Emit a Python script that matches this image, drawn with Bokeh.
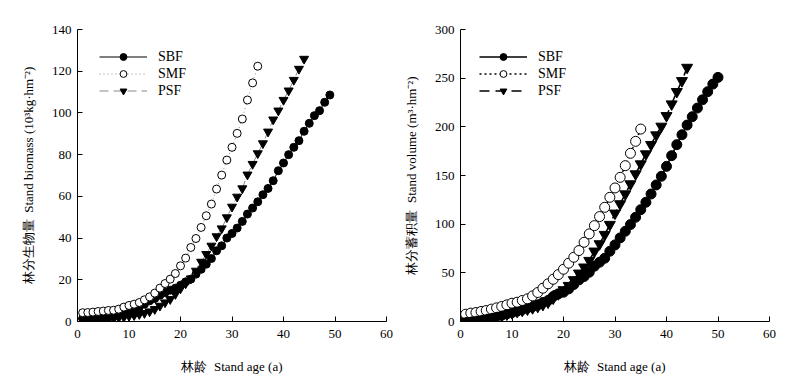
from bokeh.plotting import figure
from bokeh.layouts import row
from bokeh.models import Range1d, Legend, LegendItem
from bokeh.embed import file_html
from bokeh.resources import INLINE

# ---------------- data ----------------
age_sbf_bio = list(range(1, 50))
bio_sbf = [1.4, 1.6, 1.8, 1.9, 2.2, 2.6, 2.9, 3.2, 3.8, 4.8,
           5.9, 7.0, 8.3, 9.9, 11.0, 12.6, 13.9, 15.0, 16.0, 17.4,
           19.0, 20.3, 22.7, 25.0, 27.5, 30.2, 33.9, 36.3, 40.0, 42.2,
           44.8, 48.0, 51.5, 54.4, 57.4, 60.8, 63.8, 67.5, 72.3, 76.0,
           80.0, 83.5, 86.7, 91.2, 95.0, 98.7, 101.1, 105.1, 108.6]
age_smf_bio = list(range(1, 36))
bio_smf = [4.2, 4.3, 4.5, 4.8, 5.0, 5.3, 5.4, 5.9, 6.9, 7.7,
           8.3, 9.1, 10.4, 11.8, 13.6, 16.0, 18.2, 20.3, 23.0, 26.7,
           30.4, 35.5, 39.8, 45.1, 50.7, 56.3, 63.5, 70.2, 77.4, 83.5,
           90.2, 97.1, 106.2, 114.4, 122.4]
age_psf_bio = list(range(1, 45))
bio_psf = [0.3, 0.5, 0.6, 0.8, 1.0, 1.3, 1.4, 1.8, 2.1, 2.6,
           3.0, 3.5, 4.0, 4.8, 5.9, 7.5, 9.1, 10.7, 13.1, 15.8,
           18.2, 20.6, 24.3, 28.6, 32.3, 36.3, 40.8, 44.6, 49.9, 55.0,
           59.8, 63.8, 70.4, 75.5, 80.6, 85.4, 91.0, 96.8, 101.1, 106.2,
           110.7, 115.8, 121.1, 125.9]

age_sbf_vol = list(range(1, 51))
vol_sbf = [1.0, 1.7, 2.1, 2.7, 3.8, 4.4, 5.5, 6.5, 7.9, 9.2,
           10.6, 12.3, 14.0, 15.4, 17.1, 19.5, 21.6, 25.7, 28.4, 30.1,
           33.5, 38.0, 42.8, 46.2, 50.6, 56.8, 60.9, 65.0, 72.2, 78.7,
           85.9, 92.7, 99.6, 107.1, 114.9, 122.5, 131.0, 140.3, 149.2, 159.4,
           170.4, 181.7, 191.9, 201.8, 210.4, 219.3, 227.8, 236.1, 243.9, 250.8]
age_smf_vol = list(range(1, 36))
vol_smf = [7.5, 8.6, 9.2, 10.3, 11.3, 12.7, 14.0, 15.4, 17.1, 18.8,
           19.8, 21.6, 23.3, 26.3, 29.8, 34.2, 38.7, 43.4, 48.2, 53.7,
           59.9, 66.0, 72.9, 81.4, 90.0, 98.5, 107.8, 117.3, 127.6, 137.2,
           148.1, 160.1, 172.8, 185.1, 197.7]
age_psf_vol = list(range(1, 45))
vol_psf = [0.3, 0.7, 1.4, 2.1, 3.1, 4.1, 5.1, 6.2, 7.5, 8.9,
           10.3, 11.3, 12.7, 14.0, 15.4, 17.4, 19.8, 23.9, 28.4, 32.5,
           36.9, 42.8, 49.6, 55.8, 62.6, 72.2, 79.7, 89.3, 99.6, 111.2,
           120.8, 131.0, 141.3, 151.6, 161.8, 172.1, 181.7, 191.6, 200.5, 211.4,
           223.4, 236.1, 247.3, 261.0]

series_names = ["SBF", "SMF", "PSF"]
x_ticks = [0, 10, 20, 30, 40, 50, 60]
bio_ticks = [0, 20, 40, 60, 80, 100, 120, 140]
vol_ticks = [0, 50, 100, 150, 200, 250, 300]

FONT = "Liberation Serif"
GAP = "\u00a0\u00a0"


def make_panel(series, y_max, y_ticks, y_label, border_left, border_right,
               msize, lw, line_colors, dashes, legend_loc):
    p = figure(width=400, height=378, output_backend="svg",
               toolbar_location=None,
               x_range=Range1d(0, 60), y_range=Range1d(0, y_max),
               min_border_left=border_left, min_border_right=border_right,
               min_border_top=29, min_border_bottom=57)
    p.outline_line_color = None
    p.grid.visible = False
    p.background_fill_color = "white"
    p.border_fill_color = "white"

    items = []
    for (xs, ys), name, lc, dash in zip(series, series_names, line_colors, dashes):
        ln = p.line(xs, ys, line_color=lc, line_width=lw, line_dash=dash)
        if name == "SBF":
            mk = p.scatter(xs, ys, marker="circle", size=msize,
                           fill_color="black", line_color="black")
        elif name == "SMF":
            mk = p.scatter(xs, ys, marker="circle", size=msize,
                           fill_color="white", line_color="black", line_width=1)
        else:
            mk = p.scatter(xs, ys, marker="inverted_triangle", size=msize + 1,
                           fill_color="black", line_color="black")
        items.append(LegendItem(label=name, renderers=[ln, mk]))

    legend = Legend(items=items, location=legend_loc, margin=0, padding=0,
                    spacing=0, glyph_width=48, glyph_height=17, label_height=17,
                    label_standoff=11, border_line_color=None,
                    background_fill_alpha=0,
                    label_text_font=FONT, label_text_font_size="14px",
                    label_text_color="black")
    p.add_layout(legend)

    for ax in (p.xaxis[0], p.yaxis[0]):
        ax.axis_line_color = "black"
        ax.axis_line_width = 1
        ax.major_tick_in = 5
        ax.major_tick_out = 0
        ax.minor_tick_line_color = None
        ax.major_tick_line_color = "black"
        ax.major_label_text_font = FONT
        ax.major_label_text_font_size = "13px"
        ax.major_label_text_color = "black"
        ax.axis_label_text_font = FONT
        ax.axis_label_text_font_size = "13px"
        ax.axis_label_text_font_style = "normal"
        ax.axis_label_text_color = "black"

    p.xaxis.ticker = x_ticks
    p.yaxis.ticker = y_ticks
    p.xaxis.major_label_standoff = 8
    p.yaxis.major_label_standoff = 6
    p.xaxis.axis_label = "林龄" + GAP + "Stand age (a)"
    p.xaxis.axis_label_standoff = 18
    p.yaxis.axis_label = y_label
    p.yaxis.axis_label_standoff = 13
    return p


p1 = make_panel(
    [(age_sbf_bio, bio_sbf), (age_smf_bio, bio_smf), (age_psf_bio, bio_psf)],
    140, bio_ticks, "林分生物量" + GAP + "Stand biomass (10³kg·hm⁻²)",
    77, 14, 8, 1, ["black", "#888888", "#888888"], ["solid", "1 3", "9 5"],
    (22, 222))

p2 = make_panel(
    [(age_sbf_vol, vol_sbf), (age_smf_vol, vol_smf), (age_psf_vol, vol_psf)],
    300, vol_ticks, "林分蓄积量" + GAP + "Stand volume (m³·hm⁻²)",
    60, 31, 10, 1.6, ["black", "black", "black"], ["solid", "2 3", "10 6"],
    (19, 222))

layout = row(p1, p2)

with open("out.html", "w") as f:
    f.write(file_html(layout, INLINE))
